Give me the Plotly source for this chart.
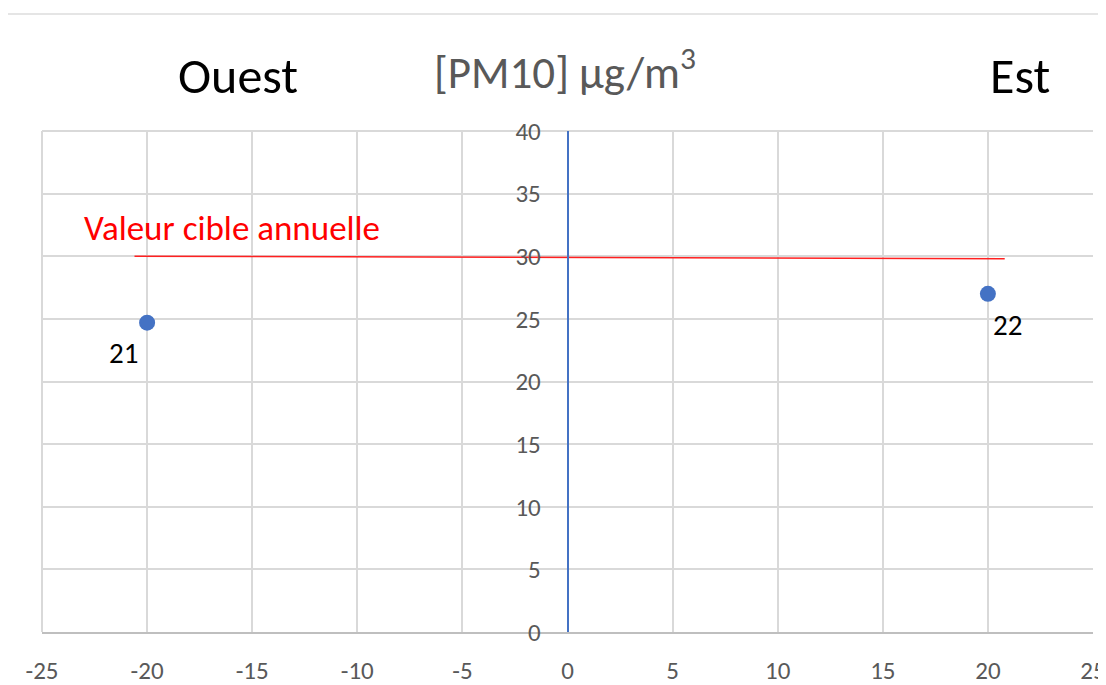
import plotly.graph_objects as go

# Data
site_names = ["Ouest", "Est"]
site_x = [-20, 20]
site_pm10 = [24.7, 27.0]
site_labels = ["21", "22"]

target_label = "Valeur cible annuelle"
target_x = [-20.6, 20.8]
target_y = [30.0, 29.8]

x_ticks = [-25, -20, -15, -10, -5, 0, 5, 10, 15, 20, 25]
y_ticks = [0, 5, 10, 15, 20, 25, 30, 35, 40]

FONT = "Carlito, Calibri, Lato, sans-serif"
BLUE = "#4472C4"
GRID = "#d9d9d9"
TICKC = "#595959"

fig = go.Figure()

fig.add_trace(go.Scatter(
    x=target_x, y=target_y, mode="lines",
    line=dict(color="#ff2020", width=1.5),
    hoverinfo="skip", showlegend=False,
))

fig.add_trace(go.Scatter(
    x=site_x, y=site_pm10, mode="markers",
    marker=dict(color=BLUE, size=16),
    showlegend=False,
))

# point labels
shifts = [(-24, -30), (20, -31)]
for xv, yv, lab, (dx, dy) in zip(site_x, site_pm10, site_labels, shifts):
    fig.add_annotation(x=xv, y=yv, text=lab, showarrow=False,
                       xshift=dx, yshift=dy,
                       font=dict(family=FONT, size=29, color="black"))

# target label
fig.add_annotation(x=-23.1, y=32.25, text=target_label, showarrow=False,
                   xanchor="left", yanchor="middle",
                   font=dict(family=FONT, size=35, color="#ff0000"))

# titles
fig.add_annotation(x=-15.68, y=1.0, xref="x", yref="paper", yanchor="middle",
                   yshift=56, text=site_names[0], showarrow=False,
                   font=dict(family=FONT, size=50, color="black"))
fig.add_annotation(x=21.55, y=1.0, xref="x", yref="paper", yanchor="middle",
                   yshift=56, text=site_names[1], showarrow=False,
                   font=dict(family=FONT, size=50, color="black"))
fig.add_annotation(x=-0.1, y=1.0, xref="x", yref="paper", yanchor="middle",
                   yshift=62, text="[PM10] µg/m<sup>3</sup>", showarrow=False,
                   font=dict(family=FONT, size=45, color=TICKC))

# top border line of screenshot
fig.add_shape(type="line", xref="paper", yref="paper",
              x0=-0.05, x1=1.1, y0=1.2335, y1=1.2335,
              line=dict(color="#dcdcdc", width=1.5))
# plot-area edge gridlines (left and top)
fig.add_shape(type="line", xref="paper", yref="paper",
              x0=0, x1=0, y0=0, y1=1, line=dict(color=GRID, width=2), layer="below")
fig.add_shape(type="line", xref="paper", yref="paper",
              x0=0, x1=1, y0=1, y1=1, line=dict(color=GRID, width=2), layer="below")

fig.update_layout(
    width=1106, height=677,
    margin=dict(l=34, r=21, t=123, b=53),
    paper_bgcolor="white", plot_bgcolor="white",
    font=dict(family=FONT),
    xaxis=dict(
        range=[-25, 25], tickvals=x_ticks, ticktext=[str(v) for v in x_ticks],
        showgrid=True, gridcolor=GRID, gridwidth=2,
        zeroline=False, showline=True, linecolor="#bfbfbf", linewidth=2,
        ticks="", ticklabelstandoff=15, automargin=False,
        tickfont=dict(family=FONT, size=25, color=TICKC),
    ),
    yaxis=dict(
        range=[0, 40], tickvals=y_ticks, ticktext=[str(v) for v in y_ticks],
        showgrid=True, gridcolor=GRID, gridwidth=2,
        zeroline=False, showline=True, linecolor=BLUE, linewidth=1.5,
        anchor="free", position=0.5, automargin=False,
        ticks="", ticklabelstandoff=21,
        tickfont=dict(family=FONT, size=25, color=TICKC),
    ),
)

fig.write_html("out.html")
